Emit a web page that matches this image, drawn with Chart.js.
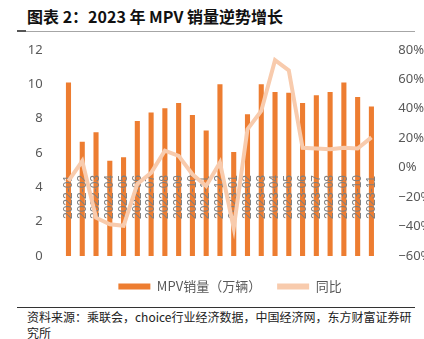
<!DOCTYPE html>
<html>
<head>
<meta charset="utf-8">
<script src="https://cdn.jsdelivr.net/npm/chart.js@4.4.0/dist/chart.umd.min.js"></script>
<style>
  html, body { margin: 0; padding: 0; background: #fff; }
  #page { position: relative; width: 424px; height: 339px; overflow: hidden; font-family: "Noto Sans CJK SC", sans-serif; }
  #title { position: absolute; left: 27px; top: 4px; font-size: 16px; font-weight: bold; color: #111; white-space: nowrap; }
  #titleLine { position: absolute; left: 17px; top: 31px; width: 398px; height: 1px; background: #a6a6a6; }
  #titleMark { position: absolute; left: 17px; top: 30px; width: 9px; height: 2px; background: #555; }
  #chartBox { position: absolute; left: 0; top: 30px; width: 424px; height: 273px; }
  #footLine { position: absolute; left: 17px; top: 307px; width: 398px; height: 1px; background: #333; }
  #source { position: absolute; left: 27px; top: 309px; font-size: 12px; line-height: 16px; color: #222; white-space: nowrap; }
</style>
</head>
<body>
<div id="page">
  <div id="title">图表 2：2023 年 MPV 销量逆势增长</div>
  <div id="titleLine"></div>
  <div id="titleMark"></div>
  <div id="chartBox"><canvas id="mpvChart"></canvas></div>
  <div id="footLine"></div>
  <div id="source">资料来源：乘联会，choice行业经济数据，中国经济网，东方财富证券研<br>究所</div>
</div>
<script>
// months shown on the x axis
const months = [
  "2022-01", "2022-02", "2022-03", "2022-04", "2022-05", "2022-06",
  "2022-07", "2022-08", "2022-09", "2022-10", "2022-11", "2022-12",
  "2023-01", "2023-02", "2023-03", "2023-04", "2023-05", "2023-06",
  "2023-07", "2023-08", "2023-09", "2023-10", "2023-11"
];
// MPV sales, 10k units (left axis)
const sales = [
  10.1, 6.65, 7.2, 5.55, 5.75, 7.85, 8.35, 8.6, 8.9, 8.2, 7.3, 10.0,
  6.05, 8.25, 10.0, 9.55, 9.5, 8.9, 9.35, 9.55, 10.1, 9.25, 8.7
];
// year-on-year growth, % (right axis)
const yoy = [
  -9, 4.5, -34, -38.5, -39.5, -11, -3.5, 11.5, 8, -4.5, -12.5, 3.5,
  -41, 26, 38.5, 73, 66, 13.5, 13, 12.5, 13.5, 13, 20.5
];
const leftTicks = [0, 2, 4, 6, 8, 10, 12];
const rightTicks = [-60, -40, -20, 0, 20, 40, 60, 80];

const legendNames = ["MPV销量（万辆）", "同比"];
const BAR_COLOR = "#ED7D31";
const LINE_COLOR = "#F8CBAD";
const TICK_COLOR = "#595959";

// month labels are drawn standing up inside the plot, over the bars
const monthLabels = {
  id: "monthLabels",
  afterDatasetDraw(chart, args) {
    if (args.index !== 0) return;
    const { ctx, chartArea } = chart;
    const x = chart.scales.x;
    ctx.save();
    ctx.font = "12px 'Liberation Sans', sans-serif";
    ctx.fillStyle = "#7f7f7f";
    ctx.textAlign = "left";
    ctx.textBaseline = "middle";
    months.forEach((m, i) => {
      ctx.save();
      ctx.translate(x.getPixelForValue(i), chartArea.bottom - 37);
      ctx.rotate(-Math.PI / 2);
      ctx.fillText(m, 0, 0);
      ctx.restore();
    });
    ctx.restore();
  },
};

// the legend sits a bit right of the canvas centre in the original
const legendShift = {
  id: "legendShift",
  afterLayout(chart) {
    chart.legend.left += 18;
    chart.legend.right += 18;
  },
};

new Chart(document.getElementById("mpvChart"), {
  data: {
    labels: months,
    datasets: [
      {
        type: "bar",
        label: legendNames[0],
        data: sales,
        backgroundColor: BAR_COLOR,
        yAxisID: "y",
        order: 2,
        barPercentage: 0.37,
        categoryPercentage: 1,
      },
      {
        type: "line",
        label: legendNames[1],
        data: yoy,
        borderColor: LINE_COLOR,
        backgroundColor: LINE_COLOR,
        borderWidth: 4,
        pointRadius: 0,
        tension: 0,
        yAxisID: "y1",
        order: 1,
      },
    ],
  },
  options: {
    responsive: true,
    maintainAspectRatio: false,
    animation: false,
    layout: { padding: { top: 4, left: 0, right: 0, bottom: 0 } },
    plugins: {
      tooltip: { enabled: false },
      legend: {
        position: "bottom",
        labels: {
          boxWidth: 32,
          boxHeight: 6,
          padding: 16,
          color: TICK_COLOR,
          font: { family: "'Noto Sans CJK SC', sans-serif", size: 13 },
          generateLabels: (chart) =>
            chart.data.datasets.map((ds, i) => ({
              text: ds.label,
              fillStyle: i === 0 ? BAR_COLOR : LINE_COLOR,
              strokeStyle: i === 0 ? BAR_COLOR : LINE_COLOR,
              lineWidth: 0,
              fontColor: TICK_COLOR,
              datasetIndex: i,
            })),
        },
      },
    },
    scales: {
      x: {
        grid: { display: false },
        border: { display: false },
        ticks: { display: false },
        afterFit: (s) => { s.height = 8; },
      },
      y: {
        position: "left",
        min: 0,
        max: 12,
        grid: { display: false },
        border: { display: false },
        afterBuildTicks: (s) => { s.ticks = leftTicks.map((v) => ({ value: v })); },
        afterFit: (s) => { s.width = 61.6; },
        ticks: {
          padding: 11,
          color: TICK_COLOR,
          font: { family: "'Noto Sans', sans-serif", size: 13 },
        },
      },
      y1: {
        position: "right",
        min: -60,
        max: 80,
        grid: { display: false },
        border: { display: false },
        afterBuildTicks: (s) => { s.ticks = rightTicks.map((v) => ({ value: v })); },
        afterFit: (s) => { s.width = 45.7; },
        ticks: {
          padding: 12,
          color: TICK_COLOR,
          font: { family: "'Noto Sans', sans-serif", size: 13 },
          callback: (v) => (v < 0 ? "\u2212" + Math.abs(v) : v) + "%",
        },
      },
    },
  },
  plugins: [monthLabels, legendShift],
});
</script>
</body>
</html>
